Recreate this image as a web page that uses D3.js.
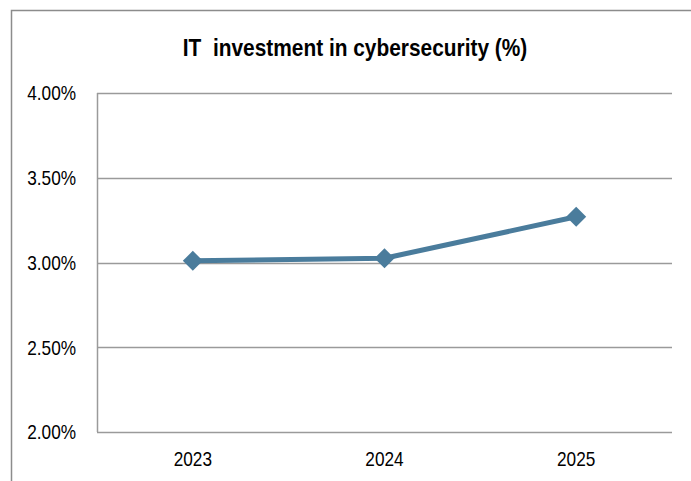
<!DOCTYPE html>
<html>
<head>
<meta charset="utf-8">
<script src="https://cdn.jsdelivr.net/npm/d3@7"></script>
<style>
  body { margin: 0; background: #fff; }
  text { font-family: "Liberation Sans", Arial, sans-serif; white-space: pre; }
</style>
</head>
<body>
<script>
// chart data
var years = ["2023", "2024", "2025"];
var values = [3.01, 3.025, 3.27];
var yTicks = [2.0, 2.5, 3.0, 3.5, 4.0];
var title = "IT  investment in cybersecurity (%)";

var W = 691, H = 481;
var margin = {top: 93, right: 19, bottom: 49, left: 97},
    width = W - margin.left - margin.right,
    height = H - margin.top - margin.bottom;

// no narrow font installed, so squeeze the regular one
var narrow = 0.82;

var svg = d3.select("body").append("svg")
    .attr("width", W)
    .attr("height", H);

// outer chart border (runs off the bottom and right of the picture)
svg.append("rect")
    .attr("x", 11.5).attr("y", 10.5)
    .attr("width", W + 20).attr("height", H + 20)
    .attr("fill", "none")
    .attr("stroke", "#8c8c8c")
    .attr("stroke-width", 1.5);

svg.append("text")
    .attr("transform", "translate(355,56) scale(0.87,1)")
    .attr("text-anchor", "middle")
    .style("font-size", "24px")
    .style("font-weight", "bold")
    .style("fill", "#000")
    .text(title);

var g = svg.append("g")
    .attr("transform", "translate(" + margin.left + "," + margin.top + ")");

var x = d3.scaleBand()
    .domain(years)
    .range([0, width]);

var y = d3.scaleLinear()
    .domain([2, 4])
    .range([height, 0]);

// gridlines
g.selectAll(".grid").data(yTicks).enter()
  .append("line")
    .attr("class", "grid")
    .attr("x1", 0).attr("x2", width)
    .attr("y1", function(d) { return Math.round(y(d)) + 0.5; })
    .attr("y2", function(d) { return Math.round(y(d)) + 0.5; })
    .attr("stroke", "#9a9a9a")
    .attr("stroke-width", 1.5);

// y axis line
g.append("line")
    .attr("x1", 0.5).attr("x2", 0.5)
    .attr("y1", 0).attr("y2", height)
    .attr("stroke", "#9a9a9a")
    .attr("stroke-width", 1.5);

// y labels
g.selectAll(".ylab").data(yTicks).enter()
  .append("text")
    .attr("class", "ylab")
    .attr("transform", function(d) { return "translate(-21," + y(d) + ") scale(" + narrow + ",1)"; })
    .attr("dy", "0.35em")
    .attr("text-anchor", "end")
    .style("font-size", "21px")
    .style("fill", "#000")
    .text(function(d) { return d.toFixed(2) + "%"; });

// x labels
g.selectAll(".xlab").data(years).enter()
  .append("text")
    .attr("class", "xlab")
    .attr("transform", function(d) {
      return "translate(" + (x(d) + x.bandwidth() / 2) + "," + (height + 34) + ") scale(" + narrow + ",1)";
    })
    .attr("text-anchor", "middle")
    .style("font-size", "21px")
    .style("fill", "#000")
    .text(function(d) { return d; });

var pts = years.map(function(d, i) { return {year: d, value: values[i]}; });

var line = d3.line()
    .x(function(d) { return x(d.year) + x.bandwidth() / 2; })
    .y(function(d) { return y(d.value); });

g.append("path")
    .datum(pts)
    .attr("d", line)
    .attr("fill", "none")
    .attr("stroke", "#4a7c9c")
    .attr("stroke-width", 5)
    .attr("stroke-linejoin", "round");

var r = 10;
g.selectAll(".pt").data(pts).enter()
  .append("path")
    .attr("class", "pt")
    .attr("transform", function(d) {
      return "translate(" + (x(d.year) + x.bandwidth() / 2) + "," + y(d.value) + ")";
    })
    .attr("d", "M0," + (-r) + "L" + r + ",0L0," + r + "L" + (-r) + ",0Z")
    .attr("fill", "#4a7c9c");
</script>
</body>
</html>
